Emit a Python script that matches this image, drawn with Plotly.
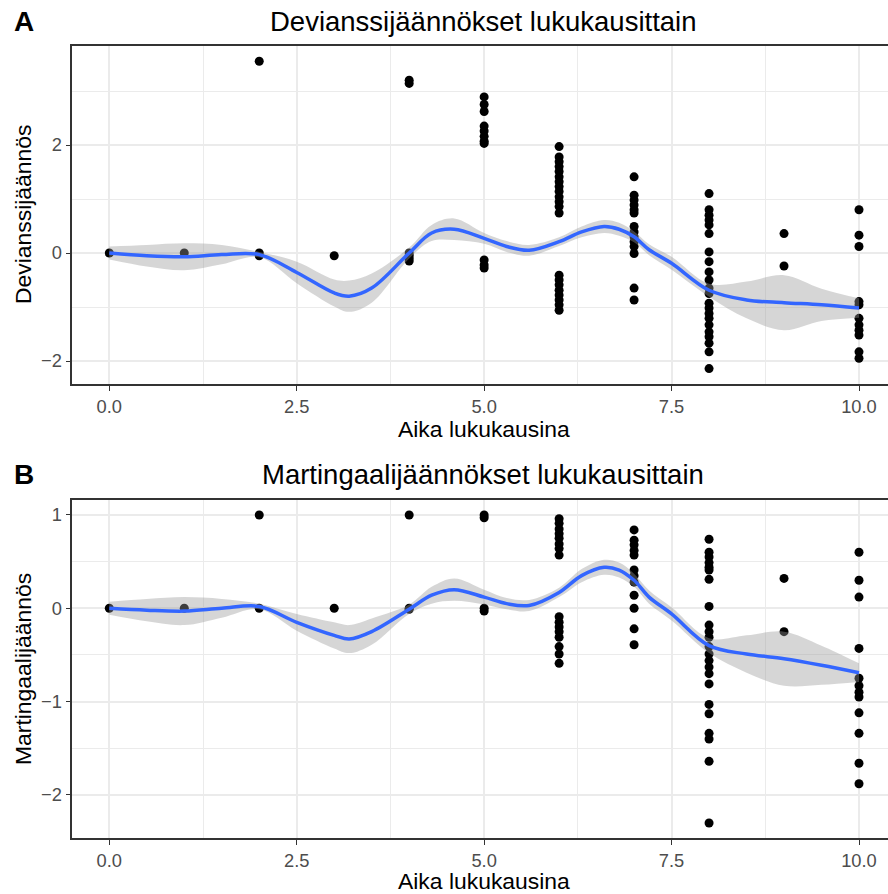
import plotly.graph_objects as go

W, H = 888, 894

# ---------------- data ----------------
times = [0, 1, 2, 3, 4, 5, 6, 7, 8, 9, 10]

dev_groups = [
    [0.0],
    [0.0],
    [3.55, 0.0, -0.05],
    [-0.05],
    [3.20, 3.14, 0.0, -0.05, -0.10, -0.15],
    [2.89, 2.75, 2.62, 2.35, 2.26, 2.16, 2.07, 2.03, -0.13, -0.22, -0.28],
    [1.97, 1.78, 1.69, 1.60, 1.51, 1.41, 1.32, 1.23, 1.14, 1.04, 0.95, 0.86, 0.74,
     -0.41, -0.50, -0.59, -0.69, -0.78, -0.87, -0.96, -1.06],
    [1.41, 1.07, 0.98, 0.89, 0.80, 0.74, 0.49, 0.39, 0.30, 0.21, 0.12, -0.01, -0.65, -0.87],
    [1.10, 0.80, 0.70, 0.61, 0.52, 0.36, 0.02, -0.16, -0.35, -0.50, -0.65, -0.75,
     -0.93, -1.02, -1.12, -1.21, -1.33, -1.46, -1.55, -1.67, -1.83, -2.14],
    [0.36, -0.24],
    [0.80, 0.33, 0.12, -0.90, -0.96, -1.21, -1.33, -1.43, -1.52, -1.83, -1.95],
]

mar_groups = [
    [0.0],
    [0.0],
    [1.0, 0.0],
    [0.0],
    [1.0, 0.0, -0.01],
    [1.0, 0.97, 0.0, -0.03],
    [0.96, 0.91, 0.85, 0.80, 0.75, 0.69, 0.64, 0.57,
     -0.09, -0.15, -0.20, -0.25, -0.31, -0.41, -0.49, -0.59],
    [0.84, 0.73, 0.68, 0.62, 0.57, 0.41, 0.35, 0.28, 0.14, 0.0, -0.22, -0.39],
    [0.74, 0.60, 0.55, 0.49, 0.44, 0.41, 0.31, 0.02, -0.18, -0.25, -0.31,
     -0.41, -0.49, -0.56, -0.63, -0.70, -0.81, -1.03, -1.13, -1.34, -1.40, -1.64, -2.30],
    [0.32, -0.25],
    [0.60, 0.30, 0.12, -0.43, -0.75, -0.83, -0.90, -0.95, -1.12, -1.34, -1.66, -1.88],
]

# loess smooth
smooth_x = [0, 0.5, 1, 1.5, 2, 2.5, 3, 3.2, 3.5, 4, 4.3, 4.6, 5, 5.3, 5.6,
            6, 6.3, 6.6, 6.8, 7, 7.2, 7.5, 8, 8.5, 9, 9.5, 10]
devA_fit = [0.00, -0.05, -0.07, -0.03, -0.03, -0.36, -0.74, -0.80, -0.65, 0.00, 0.37, 0.44, 0.27, 0.12, 0.05,
            0.21, 0.39, 0.49, 0.44, 0.30, 0.06, -0.19, -0.69, -0.87, -0.92, -0.96, -1.02]
devA_lo = [-0.12, -0.25, -0.32, -0.21, -0.08, -0.56, -0.99, -1.09, -0.92, -0.10, 0.22, 0.24, 0.17, 0.02, -0.05,
           0.13, 0.29, 0.37, 0.32, 0.20, -0.04, -0.31, -0.81, -1.21, -1.43, -1.26, -1.20]
devA_hi = [0.12, 0.15, 0.18, 0.15, 0.02, -0.16, -0.49, -0.51, -0.38, 0.10, 0.52, 0.64, 0.37, 0.22, 0.15,
           0.29, 0.49, 0.61, 0.56, 0.40, 0.16, -0.07, -0.57, -0.53, -0.41, -0.66, -0.84]

marB_fit = [0.00, -0.02, -0.03, 0.00, 0.02, -0.15, -0.29, -0.33, -0.25, -0.01, 0.14, 0.20, 0.12, 0.05, 0.03,
            0.17, 0.35, 0.44, 0.41, 0.30, 0.12, -0.06, -0.40, -0.49, -0.54, -0.61, -0.69]
marB_lo = [-0.07, -0.14, -0.18, -0.10, -0.01, -0.24, -0.43, -0.48, -0.39, -0.06, 0.05, 0.08, 0.04, -0.01, -0.03,
           0.12, 0.28, 0.36, 0.33, 0.23, 0.05, -0.13, -0.48, -0.69, -0.83, -0.82, -0.79]
marB_hi = [0.07, 0.10, 0.12, 0.10, 0.05, -0.06, -0.15, -0.18, -0.11, 0.04, 0.23, 0.32, 0.20, 0.11, 0.09,
           0.22, 0.42, 0.52, 0.49, 0.37, 0.19, 0.01, -0.32, -0.29, -0.25, -0.40, -0.59]

x_ticks = [0, 2.5, 5, 7.5, 10]
yA_ticks = [-2, 0, 2]
yB_ticks = [-2, -1, 0, 1]

titleA = "Devianssijäännökset lukukausittain"
titleB = "Martingaalijäännökset lukukausittain"
ylabA = "Devianssijäännös"
ylabB = "Martingaalijäännös"
xlab = "Aika lukukausina"

# ---------------- figure ----------------
FONT = "Liberation Sans, Arial, sans-serif"
GRID = "#EBEBEB"
BORDER = "#333333"


def flat(groups):
    xs, ys = [], []
    for t, g in zip(times, groups):
        for v in g:
            xs.append(t)
            ys.append(v)
    return xs, ys


fig = go.Figure()


def add_panel(groups, fit, lo, hi, xa, ya):
    px, py = flat(groups)
    fig.add_trace(go.Scatter(x=px, y=py, mode="markers", xaxis=xa, yaxis=ya,
                             marker=dict(color="black", size=9, line=dict(width=0)),
                             showlegend=False, hoverinfo="skip"))
    fig.add_trace(go.Scatter(x=smooth_x, y=lo, mode="lines", xaxis=xa, yaxis=ya,
                             line=dict(width=0, shape="spline"), showlegend=False, hoverinfo="skip"))
    fig.add_trace(go.Scatter(x=smooth_x, y=hi, mode="lines", xaxis=xa, yaxis=ya,
                             line=dict(width=0, shape="spline"), fill="tonexty",
                             fillcolor="rgba(153,153,153,0.4)", showlegend=False, hoverinfo="skip"))
    fig.add_trace(go.Scatter(x=smooth_x, y=fit, mode="lines", xaxis=xa, yaxis=ya,
                             line=dict(color="#3366FF", width=3.5, shape="spline"),
                             showlegend=False, hoverinfo="skip"))


add_panel(dev_groups, devA_fit, devA_lo, devA_hi, "x", "y")
add_panel(mar_groups, marB_fit, marB_lo, marB_hi, "x2", "y2")


def px_x(p):
    return p / W


def px_y(p):
    return 1 - p / H


# pixel geometry
left_px = 72.3
x0_px, x10_px = 109.3, 859.0
ppu_x = (x10_px - x0_px) / 10
x_range = [(left_px - x0_px) / ppu_x, (W - x0_px) / ppu_x]

A_top, A_bot, A_zero, A_ppu = 46.0, 384.0, 253.0, 54.0
B_top, B_bot, B_zero, B_ppu = 500.0, 838.0, 608.3, 93.33

tickfont = dict(family=FONT, size=18.3, color="#4D4D4D")

xcommon = dict(range=x_range, tickvals=x_ticks, tickformat=".1f", ticks="outside", ticklen=5,
               tickwidth=1.3, tickcolor=BORDER, showgrid=True, gridcolor=GRID, gridwidth=2,
               showline=True, linecolor=BORDER, linewidth=1.6, mirror=True, zeroline=False,
               tickfont=tickfont, domain=[px_x(left_px), 1.0],
               minor=dict(tick0=0, dtick=1.25, showgrid=True, gridcolor=GRID, gridwidth=1, ticks=""))
ycommon = dict(ticks="outside", ticklen=5, tickwidth=1.3, tickcolor=BORDER, showgrid=True,
               gridcolor=GRID, gridwidth=2, showline=True, linecolor=BORDER, linewidth=1.6,
               mirror=False, zeroline=False, tickfont=tickfont)

fig.update_layout(
    width=W, height=H,
    margin=dict(l=0, r=0, t=0, b=0),
    paper_bgcolor="white", plot_bgcolor="white",
    xaxis=dict(**xcommon, anchor="y"),
    xaxis2=dict(**xcommon, anchor="y2"),
    yaxis=dict(**ycommon, anchor="x", tickvals=yA_ticks,
               range=[(A_zero - A_bot) / A_ppu, (A_zero - A_top) / A_ppu],
               domain=[px_y(A_bot), px_y(A_top)],
               minor=dict(tick0=0, dtick=1, showgrid=True, gridcolor=GRID, gridwidth=1, ticks="")),
    yaxis2=dict(**ycommon, anchor="x2", tickvals=yB_ticks,
                range=[(B_zero - B_bot) / B_ppu, (B_zero - B_top) / B_ppu],
                domain=[px_y(B_bot), px_y(B_top)],
                minor=dict(tick0=0, dtick=0.5, showgrid=True, gridcolor=GRID, gridwidth=1, ticks="")),
)

title_cx = 483.0
ann = []


def text(x, y, s, size, bold=False, angle=0, xanchor="center", yanchor="middle"):
    ann.append(dict(x=px_x(x), y=px_y(y), xref="paper", yref="paper", text=("<b>%s</b>" % s) if bold else s,
                    showarrow=False, textangle=angle, xanchor=xanchor, yanchor=yanchor,
                    font=dict(family=FONT, size=size, color="black")))


text(title_cx, 21, titleA, 27.5)
text(title_cx, 474, titleB, 27.5)
text(12, 21, "A", 28, bold=True, xanchor="left")
text(12, 474, "B", 28, bold=True, xanchor="left")
text(484, 429, xlab, 22.9)
text(484, 881, xlab, 22.9)
text(23, (A_top + A_bot) / 2, ylabA, 22.9, angle=-90)
text(23, (B_top + B_bot) / 2, ylabB, 22.9, angle=-90)

fig.update_layout(annotations=ann)

fig.write_html("out.html")
